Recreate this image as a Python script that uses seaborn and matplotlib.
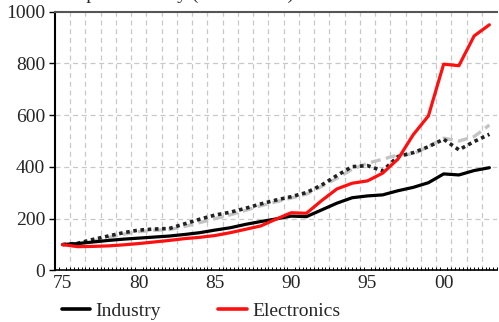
import matplotlib
matplotlib.use('Agg')
import matplotlib.pyplot as plt
from matplotlib.ticker import FixedLocator, MultipleLocator
from matplotlib.lines import Line2D
import seaborn as sns
import pandas as pd

# years 1975-2003, index 1975 = 100
years = list(range(75, 104))
industry = [100, 104, 110, 116, 121, 125, 129, 133, 139, 146, 156, 165, 178, 189, 199,
            210, 208, 234, 260, 281, 288, 292, 308, 321, 339, 373, 369, 386, 397]
electronics = [100, 92, 93, 95, 99, 104, 110, 116, 123, 128, 135, 146, 159, 172, 198,
               223, 221, 270, 315, 337, 346, 376, 430, 524, 597, 797, 791, 906, 949]
dotted_series = [100, 105, 120, 133, 146, 156, 160, 162, 180, 198, 214, 225, 240, 257, 272,
                 285, 301, 330, 367, 401, 405, 385, 440, 455, 478, 507, 466, 498, 526]
dashed_series = [100, 103, 113, 127, 140, 150, 155, 158, 170, 185, 200, 215, 232, 250, 265,
                 280, 295, 325, 356, 391, 414, 430, 446, 450, 478, 511, 500, 517, 562]
xtick_pos = [75, 80, 85, 90, 95, 100]
xtick_labels = ['75', '80', '85', '90', '95', '00']
yticks = [0, 200, 400, 600, 800, 1000]

df = pd.DataFrame({'year': years, 'Industry': industry, 'Electronics': electronics,
                   'dotted': dotted_series, 'dashed': dashed_series})

sns.set_style('white')
plt.rcParams['font.family'] = ['Liberation Serif', 'DejaVu Serif']

fig = plt.figure(figsize=(4.99, 3.22), dpi=100)
ax = fig.add_axes([0.110, 0.160, 0.886, 0.804])

sns.lineplot(data=df, x='year', y='dashed', ax=ax, color='#c4c4c4', linewidth=2.4,
             linestyle=(0, (3, 1.6)))
sns.lineplot(data=df, x='year', y='dotted', ax=ax, color='#222222', linewidth=2.6,
             linestyle=(0, (1, 1)))
sns.lineplot(data=df, x='year', y='Industry', ax=ax, color='black', linewidth=2.3)
sns.lineplot(data=df, x='year', y='Electronics', ax=ax, color='#ff1010', linewidth=2.3)

ax.set_xlim(74.5, 103.5)
ax.set_ylim(0, 1000)
ax.set_xlabel('')
ax.set_ylabel('')

# category style axis: labels at years, grid between years
ax.xaxis.set_major_locator(FixedLocator(xtick_pos))
ax.set_xticklabels(xtick_labels)
ax.xaxis.set_minor_locator(MultipleLocator(0.25))
ax.tick_params(axis='x', which='major', length=0, pad=3, labelsize=14)
ax.tick_params(axis='x', which='minor', direction='in', length=2.5, width=0.7,
               color='black', bottom=True)
ax.set_yticks(yticks)
ax.tick_params(axis='y', which='major', direction='out', length=4, width=1,
               color='black', pad=3, labelsize=14, left=True)

for x in [y + 0.5 for y in years[:-1]]:
    ax.axvline(x, color='#c8c8c8', linewidth=0.9, linestyle=(0, (4, 3)), zorder=0)
for y in yticks[1:-1]:
    ax.axhline(y, color='#c8c8c8', linewidth=0.9, linestyle=(0, (4, 3)), zorder=0)

ax.spines['left'].set_color('black')
ax.spines['left'].set_linewidth(1.5)
ax.spines['bottom'].set_color('black')
ax.spines['bottom'].set_linewidth(1.2)
ax.spines['top'].set_color('#555555')
ax.spines['top'].set_linewidth(1.5)
ax.spines['right'].set_visible(False)

handles = [Line2D([], [], color='black', linewidth=2.6),
           Line2D([], [], color='#ff1010', linewidth=2.6)]
fig.legend(handles, ['Industry', 'Electronics'], loc='center left',
           bbox_to_anchor=(0.124, 0.034), ncol=2, frameon=False, fontsize=14,
           handlelength=1.45, handletextpad=0.28, columnspacing=2.95,
           borderaxespad=0, borderpad=0)

# title clipped by the top edge, as in the reference
fig.text(0.114, 1.004, 'Output: Industry (1975 = 100)', fontsize=14, va='baseline')

fig.savefig('out.png', dpi=100)
